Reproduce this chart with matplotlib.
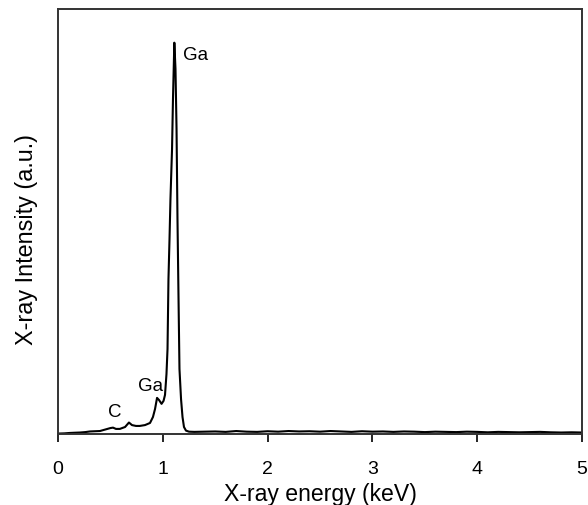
import matplotlib.pyplot as plt
import numpy as np

plt.rcParams['font.family'] = ['Liberation Sans', 'DejaVu Sans']

# EDX spectrum (energy in keV, intensity in arbitrary units)
energy = [0.00, 0.06, 0.115, 0.16, 0.21, 0.26, 0.305, 0.35, 0.40, 0.45, 0.50, 0.525,
          0.553, 0.59, 0.64, 0.677, 0.706, 0.744, 0.78, 0.83, 0.878, 0.906, 0.926,
          0.945, 0.964, 0.988, 1.007, 1.021, 1.035, 1.045, 1.054, 1.064, 1.073,
          1.088, 1.097, 1.110, 1.121, 1.131, 1.140, 1.150, 1.159, 1.174, 1.188,
          1.202, 1.221, 1.25, 1.30, 1.40, 1.50, 1.60, 1.70, 1.80, 1.90, 2.00,
          2.10, 2.20, 2.30, 2.40, 2.50, 2.60, 2.70, 2.80, 2.90, 3.00, 3.10, 3.20,
          3.30, 3.40, 3.50, 3.60, 3.70, 3.80, 3.90, 4.00, 4.10, 4.20, 4.30, 4.40,
          4.50, 4.60, 4.70, 4.80, 4.90, 5.00]
intensity = [0.1, 0.15, 0.25, 0.3, 0.35, 0.45, 0.6, 0.65, 0.7, 1.05, 1.4, 1.5,
             1.2, 1.2, 1.65, 2.7, 2.1, 1.9, 1.9, 2.1, 2.6, 4.0, 5.9,
             8.5, 8.0, 7.1, 7.8, 9.2, 14.1, 20.0, 36.5, 45.9, 55.3,
             67.0, 78.8, 92.1, 85.9, 71.8, 50.6, 31.8, 15.3, 8.2, 4.0,
             1.65, 0.8, 0.55, 0.5, 0.55, 0.6, 0.5, 0.7, 0.55, 0.5, 0.65,
             0.55, 0.7, 0.6, 0.65, 0.55, 0.7, 0.6, 0.5, 0.65, 0.55, 0.6, 0.5,
             0.6, 0.55, 0.45, 0.55, 0.5, 0.45, 0.55, 0.5, 0.4, 0.5, 0.45, 0.4,
             0.45, 0.5, 0.4, 0.35, 0.4, 0.35]

# peak labels
labels = ['Ga', 'Ga', 'C']
label_x = [1.196, 0.766, 0.48]
label_y = [89.4, 11.5, 5.25]

fig = plt.figure(figsize=(5.88, 5.06), dpi=100)
ax = fig.add_axes([0.0986, 0.1403, 0.8914, 0.8397])

ax.plot(energy, intensity, '-', color='black', lw=1.5)

for s, x, y in zip(labels, label_x, label_y):
    ax.text(x, y, s, fontsize=13.5, ha='left', va='center')

ax.set_xlim(0, 5)
ax.set_ylim(0, 100)
ax.set_xticks([0, 1, 2, 3, 4, 5])
ax.set_yticks([])
ax.tick_params(axis='x', direction='out', length=6, width=1.2, pad=13,
               labelsize=14, colors='black')
for sp in ax.spines.values():
    sp.set_linewidth(1.4)
    sp.set_color('#333333')

ax.set_xlabel("X-ray energy (keV)", fontsize=16.6, labelpad=3)
ax.set_ylabel("X-ray Intensity (a.u.)", fontsize=16.8)
ax.yaxis.set_label_coords(-0.038, 0.459)

fig.savefig('out.png', dpi=100)
